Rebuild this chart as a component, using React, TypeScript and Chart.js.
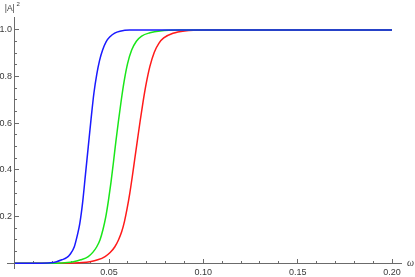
import React, { useEffect, useRef } from 'react';
import { Chart, registerables } from 'chart.js';

Chart.register(...registerables);

// ω values (x) and |A|^2 values (y), per curve
const blueOmega = [0, 0.012, 0.019, 0.0222, 0.025, 0.0275, 0.0295, 0.0316, 0.0332, 0.0345, 0.036, 0.0375, 0.039, 0.0405, 0.042, 0.0435, 0.045, 0.0466, 0.0485, 0.0505, 0.053, 0.0558, 0.061, 0.2];
const blueA2 = [0, 0, 0.002, 0.007, 0.015, 0.024, 0.04, 0.071, 0.12, 0.17, 0.26, 0.38, 0.5, 0.62, 0.73, 0.81, 0.87, 0.914, 0.95, 0.971, 0.987, 0.995, 1, 1];

const greenOmega = [0, 0.02, 0.025, 0.028, 0.0311, 0.035, 0.039, 0.0415, 0.0435, 0.0452, 0.0468, 0.0483, 0.0497, 0.051, 0.0523, 0.0536, 0.055, 0.0565, 0.058, 0.0598, 0.062, 0.0645, 0.0673, 0.0717, 0.077, 0.0876, 0.2];
const greenA2 = [0, 0, 0.001, 0.003, 0.007, 0.015, 0.029, 0.048, 0.071, 0.1, 0.145, 0.2, 0.27, 0.345, 0.43, 0.52, 0.61, 0.7, 0.78, 0.855, 0.914, 0.952, 0.974, 0.988, 0.996, 1, 1];

const redOmega = [0, 0.025, 0.03, 0.036, 0.0399, 0.044, 0.0479, 0.0506, 0.0531, 0.055, 0.0567, 0.0582, 0.0596, 0.061, 0.0623, 0.0636, 0.065, 0.0665, 0.068, 0.0697, 0.0717, 0.074, 0.0765, 0.079, 0.0839, 0.09, 0.101, 0.2];
const redA2 = [0, 0, 0.001, 0.003, 0.007, 0.015, 0.029, 0.046, 0.071, 0.1, 0.135, 0.18, 0.235, 0.3, 0.37, 0.445, 0.525, 0.61, 0.69, 0.77, 0.845, 0.905, 0.944, 0.966, 0.986, 0.996, 1, 1];

// axis ranges and ticks
const xMin = -0.00408;
const xMax = 0.20477;
const yMin = -0.0201;
const yMax = 1.0557;
const xTicks = [0.05, 0.1, 0.15, 0.2];
const xMinorTicks = [0.01, 0.02, 0.03, 0.04, 0.06, 0.07, 0.08, 0.09, 0.11, 0.12, 0.13, 0.14, 0.16, 0.17, 0.18, 0.19];
const yTicks = [0.2, 0.4, 0.6, 0.8, 1.0];
const yMinorTicks = [0.05, 0.1, 0.15, 0.25, 0.3, 0.35, 0.45, 0.5, 0.55, 0.65, 0.7, 0.75, 0.85, 0.9, 0.95];

const AXIS = '#6b6b6b';
const TEXT = '#3a3a3a';
const FONT = '"Liberation Sans", Arial, sans-serif';

const toPoints = (xs: number[], ys: number[]) => xs.map((x, i) => ({ x, y: ys[i] }));

const axisLabels = {
  id: 'axisLabels',
  afterDraw(chart: any) {
    const { ctx, chartArea } = chart;
    const y0 = chart.scales.y.getPixelForValue(0);
    const x0 = chart.scales.x.getPixelForValue(0);
    ctx.save();
    ctx.fillStyle = TEXT;
    ctx.textBaseline = 'alphabetic';
    ctx.textAlign = 'left';
    ctx.font = `8.5px ${FONT}`;
    ctx.fillText('|A|', x0 - 10, chartArea.top - 6);
    ctx.font = `6px ${FONT}`;
    ctx.fillText('2', x0 + 1.8, chartArea.top - 11);
    ctx.font = `italic 10px "Liberation Serif", serif`;
    ctx.fillText('ω', chartArea.right + 6, y0 + 3);
    ctx.restore();
  },
};

const setTicks = (values: number[]) => (scale: any) => {
  scale.ticks = values.map((v) => ({ value: v }));
};

const tickAxis = (axis: 'x' | 'y', values: number[], len: number, offsetValue: number) => ({
  type: 'linear',
  axis,
  min: axis === 'x' ? xMin : yMin,
  max: axis === 'x' ? xMax : yMax,
  position: axis === 'x' ? { y: offsetValue } : { x: offsetValue },
  afterBuildTicks: setTicks(values),
  border: { display: false },
  grid: { display: true, drawOnChartArea: false, drawTicks: true, tickLength: len, tickColor: AXIS, tickWidth: 1 },
  ticks: { display: false },
});

export default function App() {
  const ref = useRef<HTMLCanvasElement>(null);
  useEffect(() => {
    if (!ref.current) return;
    const chart = new Chart(ref.current, {
      type: 'scatter',
      data: {
        datasets: [
          { data: toPoints(blueOmega, blueA2), borderColor: '#1a1aff', showLine: true },
          { data: toPoints(greenOmega, greenA2), borderColor: '#19e619', showLine: true },
          { data: toPoints(redOmega, redA2), borderColor: '#ff1a1a', showLine: true },
        ].map((d) => ({
          ...d,
          borderWidth: 1.5,
          pointRadius: 0,
          fill: false,
          cubicInterpolationMode: 'monotone' as const,
          xAxisID: 'x',
          yAxisID: 'y',
        })),
      },
      options: {
        responsive: false,
        animation: false,
        devicePixelRatio: 1,
        layout: { padding: { left: 7, right: 14, top: 17, bottom: 9 } },
        plugins: { legend: { display: false }, tooltip: { enabled: false } },
        scales: {
          x: {
            type: 'linear',
            min: xMin,
            max: xMax,
            position: { y: 0 },
            afterBuildTicks: setTicks(xTicks),
            border: { display: true, color: AXIS, width: 1 },
            grid: { display: false, drawTicks: false },
            ticks: {
              padding: 4,
              color: TEXT,
              font: { family: FONT, size: 9 },
              maxRotation: 0,
              callback: (v: any) => Number(v).toFixed(2),
            },
          },
          xMaj: tickAxis('x', xTicks, 4, 4 / 233.3),
          xMin: tickAxis('x', xMinorTicks, 2, 2 / 233.3),
          y: {
            type: 'linear',
            min: yMin,
            max: yMax,
            position: { x: 0 },
            border: { display: true, color: AXIS, width: 1 },
            grid: { display: false, drawTicks: false },
            ticks: { display: false },
          },
          yLab: {
            type: 'linear',
            axis: 'y',
            min: yMin,
            max: yMax,
            position: { x: -2.7 / 1886.5 },
            afterBuildTicks: setTicks(yTicks),
            border: { display: false },
            grid: { display: false, drawTicks: false },
            ticks: {
              padding: 0,
              color: TEXT,
              font: { family: FONT, size: 9 },
              callback: (v: any) => Number(v).toFixed(1),
            },
          },
          yMaj: tickAxis('y', yTicks, 4, 4 / 1886.5),
          yMin: tickAxis('y', yMinorTicks, 2, 2 / 1886.5),
        } as any,
      },
      plugins: [axisLabels],
    });
    return () => chart.destroy();
  }, []);
  return (
    <div style={{ position: 'fixed', left: 0, top: 0, width: 415, height: 277, background: '#fff' }}>
      <canvas ref={ref} width={415} height={277} style={{ display: 'block' }} />
    </div>
  );
}
